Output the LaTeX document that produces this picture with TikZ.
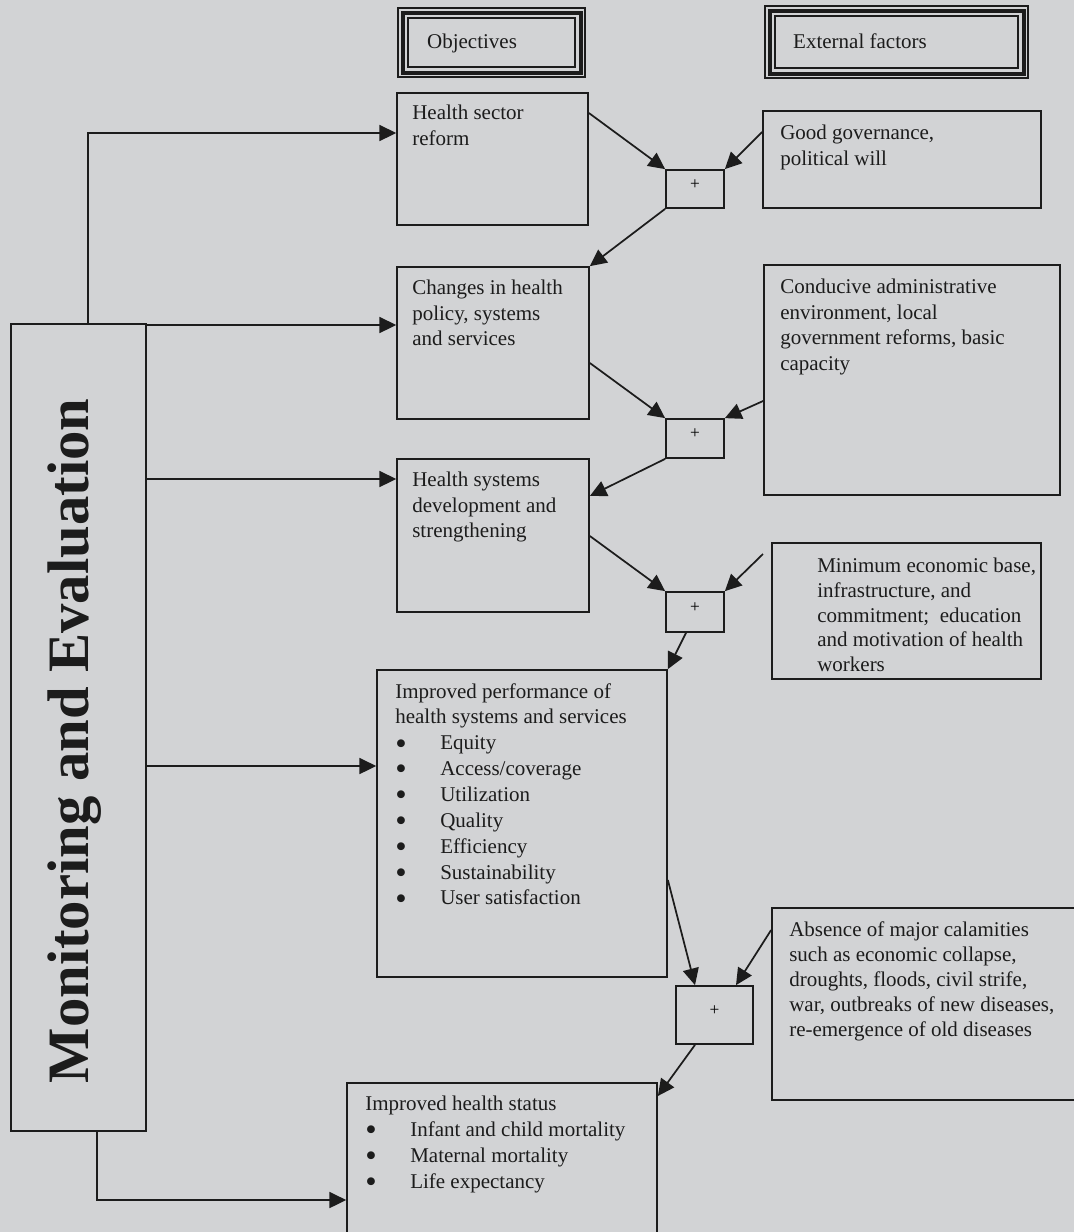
\documentclass[tikz,border=0pt]{standalone}
\usepackage{fontspec}
\setmainfont{Liberation Serif}
\usetikzlibrary{arrows.meta,fit}
\definecolor{bg}{RGB}{210,211,213}
\definecolor{ink}{RGB}{28,28,28}
\begin{document}
\begin{tikzpicture}[x=0.75pt,y=-0.75pt,
  fitbox/.style={draw=ink, line width=1.3pt, inner sep=0pt},
  plusbox/.style={draw=ink, line width=1.3pt, inner sep=0pt, font=\fontsize{13}{13}\selectfont},
  txt/.style={anchor=north west, inner sep=0pt, align=left, text=ink, font=\fontsize{15.75}{19.1}\selectfont},
  hdr/.style={anchor=base, inner sep=0pt, text=ink, font=\fontsize{15.75}{19}\selectfont},
  arr/.style={draw=ink, line width=1.3pt, -{Triangle[length=12.5pt,width=12pt]}}]
\useasboundingbox (0,0) rectangle (1074,1232);
\fill[bg] (0,0) rectangle (1074,1232);
\newcommand{\bul}{\makebox[33.75pt][l]{\raisebox{-3.2pt}[0pt][0pt]{\scalebox{1.55}{\textbullet}}}}

% header boxes
\node[draw=ink, line width=1pt, inner sep=0pt, fit={(398,8)(585,77)}] (obj) {};
\node[draw=ink, line width=3pt, inner sep=0pt, fit={(402.5,12.5)(580.5,72.5)}] (objm) {};
\node[draw=ink, line width=1.9pt, inner sep=0pt, fit={(408,18)(575,67)}] (obji) {};
\node[hdr] (objt) at (472,48) {Objectives};

\node[draw=ink, line width=1pt, inner sep=0pt, fit={(765,6)(1028,78)}] (ext) {};
\node[draw=ink, line width=3pt, inner sep=0pt, fit={(769.5,10.5)(1023.5,73.5)}] (extm) {};
\node[draw=ink, line width=1.9pt, inner sep=0pt, fit={(775,16)(1018,68)}] (exti) {};
\node[hdr] (extt) at (860,48) {External factors};

% monitoring and evaluation
\node[fitbox, fit={(11,324)(146,1131)}] (me) {};
\node[rotate=90, anchor=base, inner sep=0pt, text=ink, font=\bfseries\fontsize{44}{44}\selectfont] (metxt) at (88,741) {Monitoring and Evaluation};

% objective boxes
\node[fitbox, fit={(397,93)(588,225)}] (b1) {};
\node[txt] (b1t) at (412,105) {Health sector\\reform};
\node[fitbox, fit={(397,267)(589,419)}] (b2) {};
\node[txt] (b2t) at (412,280) {Changes in health\\policy, systems\\and services};
\node[fitbox, fit={(397,459)(589,612)}] (b3) {};
\node[txt] (b3t) at (412,472) {Health systems\\development and\\strengthening};
\node[fitbox, fit={(377,670)(667,977)}] (b4) {};
\node[txt, font=\fontsize{15.75}{19.4}\selectfont] (b4t) at (395,683) {Improved performance of\\health systems and services\\\bul Equity\\\bul Access/coverage\\\bul Utilization\\\bul Quality\\\bul Efficiency\\\bul Sustainability\\\bul User satisfaction};
\node[fitbox, fit={(347,1083)(657,1250)}] (b5) {};
\node[txt, font=\fontsize{15.75}{19.4}\selectfont] (b5t) at (365,1096) {Improved health status\\\bul Infant and child mortality\\\bul Maternal mortality\\\bul Life expectancy};

% external factor boxes
\node[fitbox, fit={(763,111)(1041,208)}] (e1) {};
\node[txt] (e1t) at (780,125) {Good governance,\\political will};
\node[fitbox, fit={(764,265)(1060,495)}] (e2) {};
\node[txt] (e2t) at (780,279) {Conducive administrative\\environment, local\\government reforms, basic\\capacity};
\node[fitbox, fit={(772,543)(1041,679)}] (e3) {};
\node[txt, font=\fontsize{15.75}{18.5}\selectfont] (e3t) at (817,558) {Minimum economic base,\\infrastructure, and\\commitment;\ \ education\\and motivation of health\\workers};
\node[fitbox, fit={(772,908)(1090,1100)}] (e4) {};
\node[txt, font=\fontsize{15.75}{18.8}\selectfont] (e4t) at (789,921) {Absence of major calamities\\such as economic collapse,\\droughts, floods, civil strife,\\war, outbreaks of new diseases,\\re-emergence of old diseases};

% plus boxes
\node[plusbox, fit={(666,170)(724,208)}] (p1) {+};
\node[plusbox, fit={(666,419)(724,458)}] (p2) {+};
\node[plusbox, fit={(666,592)(724,632)}] (p3) {+};
\node[plusbox, fit={(676,986)(753,1044)}] (p4) {+};

% connectors from Monitoring and Evaluation
\draw[arr] (me.north -| 88,0) |- (b1.west |- 0,133);
\draw[arr] (me.east |- 0,325) -- (b2.west |- 0,325);
\draw[arr] (me.east |- 0,479) -- (b3.west |- 0,479);
\draw[arr] (me.east |- 0,766) -- (b4.west |- 0,766);
\draw[arr] (me.south -| 97,0) |- (b5.west |- 0,1200);

% chain
\coordinate (e3s) at (763,554);
\draw[arr] (b1.east |- 0,113) -- (p1.north west);
\draw[arr] (e1.west |- 0,132) -- (p1.north east);
\draw[arr] (p1.south west) -- (b2.north east);
\draw[arr] (b2.east |- 0,363) -- (p2.north west);
\draw[arr] (e2.west |- 0,401) -- (p2.north east);
\draw[arr] (p2.south west) -- (b3.east |- 0,496);
\draw[arr] (b3.east |- 0,536) -- (p3.north west);
\draw[arr] (e3s) -- (p3.north east);
\draw[arr] (p3.south -| 686,0) -- (b4.north east);
\draw[arr] (b4.east |- 0,880) -- (p4.north -| 695,0);
\draw[arr] (e4.west |- 0,930) -- (p4.north -| 736,0);
\draw[arr] (p4.south -| 695,0) -- (b5.east |- 0,1096);
\end{tikzpicture}
\end{document}
